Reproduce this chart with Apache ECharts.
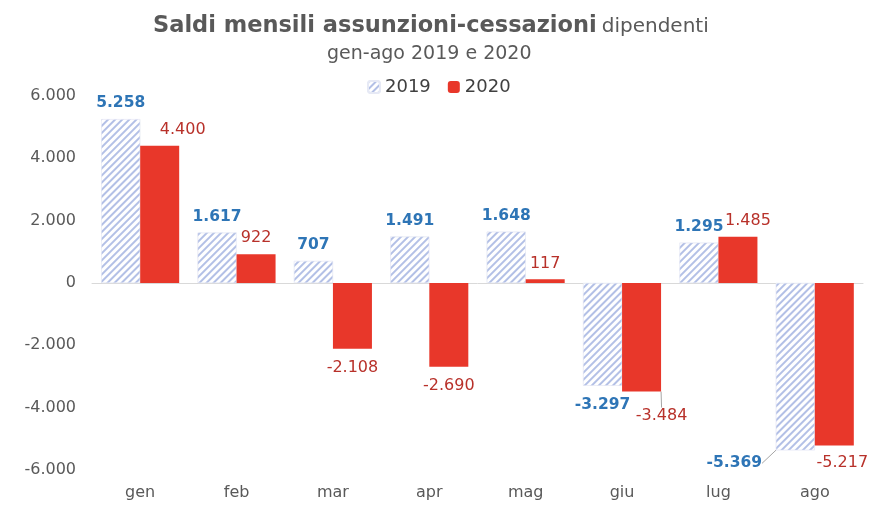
<!DOCTYPE html>
<html>
<head>
<meta charset="utf-8">
<script src="https://cdn.jsdelivr.net/npm/echarts@6/dist/echarts.min.js"></script>
<style>html,body{margin:0;padding:0;background:#fff}#c{width:874px;height:512px}</style>
</head>
<body>
<div id="c"></div>
<script>
const categories = ['gen','feb','mar','apr','mag','giu','lug','ago'];
const values2019 = [5258, 1617, 707, 1491, 1648, -3297, 1295, -5369];
const values2020 = [4400, 922, -2108, -2690, 117, -3484, 1485, -5217];
const seriesNames = ['2019','2020'];
const yTicks = [-6000, -4000, -2000, 0, 2000, 4000, 6000];

// label nudges (styling, not data)
const nudge2019 = {7: [-61, -6]};
const nudge2020 = {0: [23, 0], 5: [20, 5], 6: [10, 0], 7: [8, -2]};
const guide2019 = [7];
const guide2020 = [5];

function fmt(v){
  const s = Math.abs(v).toString().replace(/\B(?=(\d{3})+(?!\d))/g, '.');
  return (v < 0 ? '-' : '') + s;
}
const F = 'DejaVu Sans, Verdana, sans-serif';

function buildData(vals, guides){
  return vals.map((v,i)=>({
    value: v,
    label: {position: v >= 0 ? 'top' : 'bottom', distance: v >= 0 ? 8 : 11},
    labelLine: {show: guides.indexOf(i) >= 0}
  }));
}

const chart = echarts.init(document.getElementById('c'), null, {renderer:'canvas'});
chart.setOption({
  backgroundColor: '#ffffff',
  animation: false,
  title: [
    {
      text: '{b|Saldi mensili assunzioni-cessazioni} {n|dipendenti}',
      left: 148, top: 10,
      textStyle: {
        rich: {
          b: {fontFamily: F, fontWeight: 'bold', fontSize: 22.5, color: '#595959'},
          n: {fontFamily: F, fontWeight: 'normal', fontSize: 20, color: '#595959'}
        }
      }
    },
    {
      text: 'gen-ago 2019 e 2020',
      left: 322, top: 40,
      textStyle: {fontFamily: F, fontWeight: 'normal', fontSize: 19, color: '#595959'}
    }
  ],
  legend: {
    data: seriesNames,
    top: 73, left: 362,
    itemWidth: 12, itemHeight: 12, itemGap: 17,
    textStyle: {fontFamily: F, fontSize: 18, color: '#404040', padding: [0,0,0,0]}
  },
  grid: {left: 92, right: 11, top: 96, bottom: 42, containLabel: false},
  xAxis: {
    type: 'category',
    data: categories,
    axisLine: {onZero: true, lineStyle: {color: '#d9d9d9', width: 1}},
    axisTick: {show: false},
    axisLabel: {fontFamily: F, fontSize: 16, color: '#595959', margin: 15},
    position: 'bottom'
  },
  yAxis: {
    type: 'value',
    min: yTicks[0], max: yTicks[yTicks.length-1], interval: 2000,
    splitLine: {show: false},
    axisLine: {show: false},
    axisTick: {show: false},
    axisLabel: {fontFamily: F, fontSize: 16, color: '#595959', margin: 16, formatter: fmt}
  },
  series: [
    {
      name: seriesNames[0],
      type: 'bar',
      barWidth: 39,
      barGap: '0%',
      data: buildData(values2019, guide2019),
      itemStyle: {
        color: '#ffffff',
        borderColor: '#e6e9f5', borderWidth: 0.5,
        decal: {symbol: 'rect', symbolSize: 1, dashArrayX: [[1, 0]], dashArrayY: [2, 2.5], rotation: -Math.PI/4, color: '#b3c0e6'}
      },
      label: {show: true, fontFamily: F, fontWeight: 'bold', fontSize: 15.5, color: '#2e75b6', formatter: p => fmt(p.value)},
      labelLine: {lineStyle: {color: '#a6a6a6', width: 1}},
      labelLayout: p => { const n = nudge2019[p.dataIndex]; return n ? {dx: n[0], dy: n[1]} : {}; }
    },
    {
      name: seriesNames[1],
      type: 'bar',
      barWidth: 39,
      barGap: '0%',
      data: buildData(values2020, guide2020),
      itemStyle: {color: '#e8372a'},
      label: {show: true, fontFamily: F, fontWeight: 'normal', fontSize: 16, color: '#b8312a', formatter: p => fmt(p.value)},
      labelLine: {lineStyle: {color: '#a6a6a6', width: 1}},
      labelLayout: p => { const n = nudge2020[p.dataIndex]; return n ? {dx: n[0], dy: n[1]} : {}; }
    }
  ]
});
</script>
</body>
</html>
